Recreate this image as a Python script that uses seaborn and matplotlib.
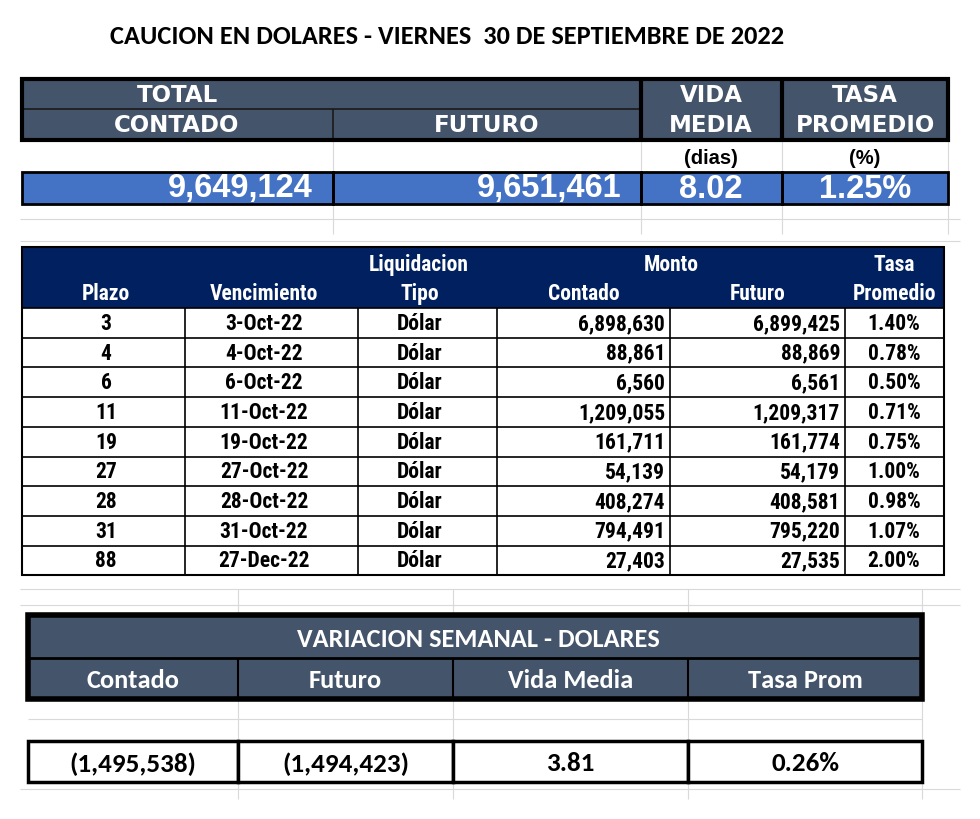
import numpy as np
import seaborn as sns
import matplotlib.pyplot as plt
from matplotlib.patches import Rectangle
from matplotlib import font_manager as fm

# ---- data -------------------------------------------------------------
title = 'CAUCION EN DOLARES - VIERNES  30 DE SEPTIEMBRE DE 2022'

total_contado = 9649124
total_futuro = 9651461
total_vida_media = 8.02
total_tasa = 1.25

plazo = [3, 4, 6, 11, 19, 27, 28, 31, 88]
vencimiento = ['3-Oct-22', '4-Oct-22', '6-Oct-22', '11-Oct-22', '19-Oct-22',
               '27-Oct-22', '28-Oct-22', '31-Oct-22', '27-Dec-22']
tipo = ['Dólar'] * 9
contado = [6898630, 88861, 6560, 1209055, 161711, 54139, 408274, 794491, 27403]
futuro = [6899425, 88869, 6561, 1209317, 161774, 54179, 408581, 795220, 27535]
tasa = [1.40, 0.78, 0.50, 0.71, 0.75, 1.00, 0.98, 1.07, 2.00]

var_labels = ['Contado', 'Futuro', 'Vida Media', 'Tasa Prom']
var_contado = -1495538
var_futuro = -1494423
var_vida_media = 3.81
var_tasa = 0.26

# ---- style ------------------------------------------------------------
sns.set_theme(style='white')
available = {f.name for f in fm.fontManager.ttflist}


def pick(names):
    return next((n for n in names if n in available), 'DejaVu Sans')


NARROW = pick(['Liberation Sans Narrow', 'Roboto Condensed', 'Roboto'])
CALIBRI = pick(['Carlito', 'Lato', 'Open Sans'])
WIDE = 'DejaVu Sans'
ARIAL = pick(['Liberation Sans', 'Arimo'])

SLATE = '#44546A'
BLUE = '#4472C4'
NAVY = '#002060'
GRID = '#D9D9D9'


def fmt_int(v):
    s = f'{abs(v):,}'
    return f'({s})' if v < 0 else s


fig = plt.figure(figsize=(9.8, 8.2), dpi=100)
ax = fig.add_axes([0, 0, 1, 1])
ax.set_xlim(0, 980)
ax.set_ylim(820, 0)
ax.axis('off')


def box(x0, y0, x1, y1, fc='none', ec='none', lw=0, z=1):
    ax.add_patch(Rectangle((x0, y0), x1 - x0, y1 - y0, facecolor=fc,
                           edgecolor=ec, linewidth=lw, zorder=z))


def hline(y, x0, x1, c='black', lw=1, z=3):
    ax.plot([x0, x1], [y, y], color=c, lw=lw, zorder=z, solid_capstyle='butt')


def vline(x, y0, y1, c='black', lw=1, z=3):
    ax.plot([x, x], [y0, y1], color=c, lw=lw, zorder=z, solid_capstyle='butt')


def txt(x, y, s, size, family, color='black', ha='center', weight='bold'):
    ax.text(x, y, s, fontsize=size, family=family, color=color, ha=ha,
            va='center', fontweight=weight, zorder=5)


# faint spreadsheet gridlines
for gx in [333, 641, 782, 948]:
    vline(gx, 141, 172, GRID, 0.8, 0)
    vline(gx, 205, 235, GRID, 0.8, 0)
for gy in [220, 242, 590, 606, 790]:
    hline(gy, 20, 960, GRID, 0.8, 0)
for gx in [238, 453, 688, 922]:
    vline(gx, 590, 615, GRID, 0.8, 0)
    vline(gx, 700, 742, GRID, 0.8, 0)
    vline(gx, 783, 800, GRID, 0.8, 0)
hline(720, 28, 922, GRID, 0.8, 0)

# ---- title --------------------------------------------------------------
txt(447, 36, title, 19, CALIBRI)

# ---- top summary table --------------------------------------------------
tx = [22, 333, 641, 782, 948]
box(tx[0], 80, tx[4], 141, SLATE)
hline(110, tx[0], tx[2], '#1a1a1a', 1.2)
vline(tx[1], 110, 141, '#1a1a1a', 1.2)
vline(tx[2], 80, 141, 'black', 3)
vline(tx[3], 80, 141, 'black', 3)
box(tx[0], 80, tx[4], 141, ec='black', lw=3, z=4)
hsize = 16.5
txt(177, 96, 'TOTAL', hsize, WIDE, 'white')
txt(177, 126, 'CONTADO', hsize, WIDE, 'white')
txt(487, 126, 'FUTURO', hsize, WIDE, 'white')
txt(711, 96, 'VIDA', hsize, WIDE, 'white')
txt(711, 126, 'MEDIA', hsize, WIDE, 'white')
txt(865, 96, 'TASA', hsize, WIDE, 'white')
txt(865, 126, 'PROMEDIO', hsize, WIDE, 'white')
txt(711, 158, '(dias)', 14.5, ARIAL)
txt(865, 158, '(%)', 14.5, ARIAL)

box(tx[0], 173, tx[4], 205, BLUE)
for i in range(4):
    box(tx[i], 173, tx[i + 1], 205, ec='black', lw=2, z=4)
vsize = 23.5
txt(tx[1] - 20, 189, fmt_int(total_contado), vsize, ARIAL, 'white', 'right')
txt(tx[2] - 20, 189, fmt_int(total_futuro), vsize, ARIAL, 'white', 'right')
txt(711, 189, f'{total_vida_media:.2f}', vsize, ARIAL, 'white')
txt(865, 189, f'{total_tasa:.2f}%', vsize, ARIAL, 'white')

# ---- detail table -------------------------------------------------------
mx = [22, 185, 358, 497, 670, 845, 944]
msize = 15.5
box(mx[0], 248, mx[6], 309, NAVY)
hy1, hy2 = 265, 294
txt(419, hy1, 'Liquidacion', msize, NARROW, 'white')
txt(671, hy1, 'Monto', msize, NARROW, 'white')
txt(894, hy1, 'Tasa', msize, NARROW, 'white')
for lab, cx in zip(['Plazo', 'Vencimiento', 'Tipo', 'Contado', 'Futuro', 'Promedio'],
                   [106, 264, 420, 584, 758, 894]):
    txt(cx, hy2, lab, msize, NARROW, 'white')

row_top, row_h = 309, 29.7
n = len(plazo)
for i in range(n + 1):
    hline(row_top + i * row_h, mx[0], mx[6], 'black', 1.2)
for x in mx:
    vline(x, row_top, row_top + n * row_h, 'black', 1.2)
box(mx[0], 248, mx[6], row_top + n * row_h, ec='black', lw=1.5, z=4)
for i in range(n):
    cy = row_top + (i + 0.5) * row_h
    txt(106, cy, str(plazo[i]), msize, NARROW)
    txt(264, cy, vencimiento[i], msize, NARROW)
    txt(420, cy, tipo[i], msize, NARROW)
    txt(mx[4] - 5, cy, fmt_int(contado[i]), msize, NARROW, ha='right')
    txt(mx[5] - 5, cy, fmt_int(futuro[i]), msize, NARROW, ha='right')
    txt(894, cy, f'{tasa[i]:.2f}%', msize, NARROW)

# ---- weekly variation table --------------------------------------------
bx = [28, 238, 453, 688, 922]
box(bx[0], 616, bx[4], 700, SLATE)
hline(659, bx[0], bx[4], 'black', 2)
for x in bx[1:-1]:
    vline(x, 659, 700, 'black', 1.5)
box(bx[0], 616, bx[4], 700, ec='black', lw=4, z=4)
txt(478, 640, 'VARIACION SEMANAL - DOLARES', 19, CALIBRI, 'white')
for i, lab in enumerate(var_labels):
    txt((bx[i] + bx[i + 1]) / 2, 681, lab, 19, CALIBRI, 'white')

var_vals = [fmt_int(var_contado), fmt_int(var_futuro),
            f'{var_vida_media:.2f}', f'{var_tasa:.2f}%']
for i in range(4):
    box(bx[i], 742, bx[i + 1], 783, 'white', 'black', 2.5, z=4)
    txt((bx[i] + bx[i + 1]) / 2, 764, var_vals[i], 19.5, CALIBRI)

fig.savefig('out.png', dpi=100, facecolor='white')
